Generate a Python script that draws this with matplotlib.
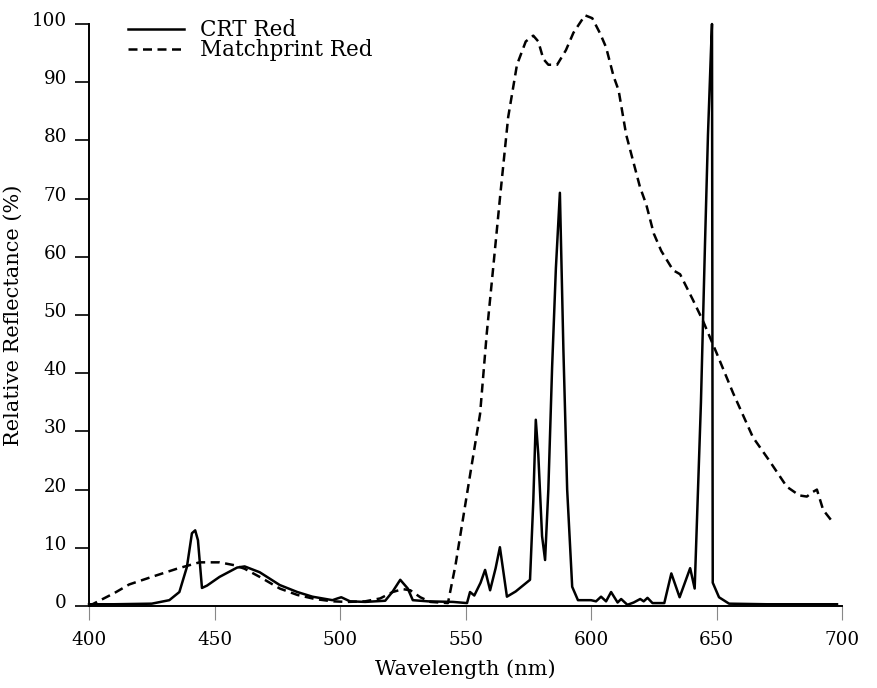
import matplotlib
matplotlib.use("Agg")
import matplotlib.pyplot as plt
import matplotlib.transforms as mtransforms

# CRT Red emission (solid)
crt_wl = [400, 410, 425, 432, 436, 439, 441, 442.3, 443.4, 445, 447, 452, 459, 462,
          468, 476, 483, 489, 497, 499, 500.5, 502, 504, 510, 518, 521, 524, 527, 529,
          535, 545, 550.6, 551.8, 553.5, 556, 557.8, 559.8, 562, 563.7, 566.5, 570,
          575.7, 577, 578, 579, 580.5, 581.7, 583, 584.5, 586, 587.6, 589, 590.5, 592.5,
          594.8, 600, 602, 604, 606, 608, 610.6, 612, 614.5, 617, 619.6, 621, 622.5,
          624.5, 629.2, 632, 635.3, 639.5, 641.3, 643.8, 645.4, 646.6, 647.8, 648.2,
          648.5, 651, 655, 670, 698]
crt_val = [0.3, 0.3, 0.4, 1.0, 2.4, 6.7, 12.5, 13.0, 11.3, 3.1, 3.5, 5.0, 6.6, 6.8,
           5.8, 3.6, 2.4, 1.6, 1.0, 1.3, 1.5, 1.2, 0.8, 0.7, 0.9, 2.5, 4.5, 3.0, 1.0,
           0.8, 0.7, 0.5, 2.4, 1.8, 4.0, 6.2, 2.7, 6.5, 10.1, 1.6, 2.5,
           4.5, 18, 32, 26, 12, 7.9, 20, 41, 58, 71, 44, 20, 3.3,
           1.0, 1.0, 0.8, 1.6, 0.8, 2.4, 0.6, 1.2, 0.2, 0.6, 1.2, 0.8, 1.4,
           0.5, 0.5, 5.6, 1.5, 6.5, 3.0, 35, 62, 81, 95.5, 100,
           4, 1.5, 0.4, 0.3, 0.3]

# Matchprint Red reflectance (dashed)
mp_wl = [400, 405, 410, 416, 425, 435, 444, 452, 458, 462, 468, 476, 483, 490, 497,
         503, 510, 516, 521, 525, 528, 532, 536, 543, 546, 549, 552, 555.8, 558.5, 561,
         563.7, 567, 570.5, 574, 577, 579, 581, 583, 586.5, 590, 593, 597.6, 600.5,
         603.6, 606, 609, 611, 614, 619.5, 622, 625, 628, 632.7, 635.5, 640.6, 644.6,
         650, 656.6, 664.5, 671, 678, 683, 686, 688, 690, 692.5, 696.5]
mp_val = [0, 1.1, 2.2, 3.7, 5.0, 6.4, 7.5, 7.5, 7.0, 6.4, 5.0, 3.0, 1.9, 1.2, 0.8,
          0.7, 0.8, 1.3, 2.4, 2.9, 2.7, 1.5, 0.7, 0.5, 7, 15, 23, 33, 47, 58,
          70, 84, 93, 97, 98, 97, 94, 93, 93, 95.5, 98.5, 101.5, 101,
          98.4, 96, 91, 88.6, 81, 72, 69, 64, 61, 57.7, 57, 52.6, 49,
          43.5, 36.6, 29, 25, 20.5, 19, 18.8, 19.5, 20, 16.5, 14.3]

x_ticks = [400, 450, 500, 550, 600, 650, 700]
y_ticks = [0, 10, 20, 30, 40, 50, 60, 70, 80, 90, 100]

plt.rcParams['font.family'] = ['DejaVu Serif']

fig = plt.figure(figsize=(8.77, 6.88), dpi=100)
ax = fig.add_axes([0.1015, 0.1192, 0.8586, 0.8459])

ax.plot(crt_wl, crt_val, color='black', lw=1.8, label='CRT Red', clip_on=False)
ax.plot(mp_wl, mp_val, color='black', lw=1.8, dashes=(3.6, 2.2),
        label='Matchprint Red', clip_on=False)

ax.set_xlim(400, 700)
ax.set_ylim(0, 100)
ax.set_xticks(x_ticks)
ax.set_yticks(y_ticks)

for s in ['top', 'right']:
    ax.spines[s].set_visible(False)
ax.spines['left'].set_linewidth(1.4)
ax.spines['bottom'].set_linewidth(1.4)

ax.tick_params(axis='x', direction='out', length=10, width=0.8, color='#888888',
               pad=8, labelsize=13.2)
ax.tick_params(axis='y', direction='out', length=10, width=1.2, color='black',
               pad=6, labelsize=13.2)

# tick labels sit a little above their ticks
offset = mtransforms.ScaledTranslation(0, 5 / 100, fig.dpi_scale_trans)
for lab in ax.get_yticklabels():
    lab.set_transform(lab.get_transform() + offset)

ax.set_xlabel('Wavelength (nm)', fontsize=15)
ax.set_ylabel('Relative Reflectance (%)', fontsize=15)
ax.yaxis.set_label_coords(-0.088, 0.5)
ax.xaxis.set_label_coords(0.5, -0.092)

ax.legend(loc='upper left', bbox_to_anchor=(0.052, 1.008), bbox_transform=ax.transAxes,
          frameon=False, fontsize=15.5, handlelength=2.6, handletextpad=0.75,
          labelspacing=-0.1, borderpad=0, borderaxespad=0)

fig.savefig('out.png', dpi=100)
